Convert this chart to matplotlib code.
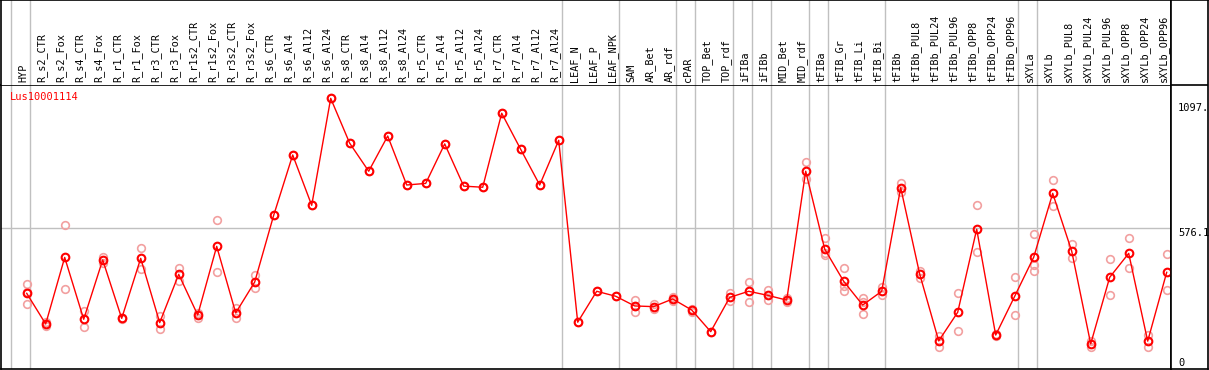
import matplotlib
matplotlib.use("Agg")
import matplotlib.pyplot as plt

# ~~~~~~~~~~ data ~~~~~~~~~~ #
gene = "Lus10001114"

samples = ["HYP",
           "R_s2_CTR", "R_s2_Fox", "R_s4_CTR", "R_s4_Fox", "R_r1_CTR", "R_r1_Fox",
           "R_r3_CTR", "R_r3_Fox", "R_r1s2_CTR", "R_r1s2_Fox", "R_r3s2_CTR", "R_r3s2_Fox",
           "R_s6_CTR", "R_s6_Al4", "R_s6_Al12", "R_s6_Al24", "R_s8_CTR", "R_s8_Al4",
           "R_s8_Al12", "R_s8_Al24", "R_r5_CTR", "R_r5_Al4", "R_r5_Al12", "R_r5_Al24",
           "R_r7_CTR", "R_r7_Al4", "R_r7_Al12", "R_r7_Al24",
           "LEAF_N", "LEAF_P", "LEAF_NPK",
           "SAM", "AR_Bet", "AR_rdf",
           "cPAR",
           "TOP_Bet", "TOP_rdf",
           "iFIBa",
           "iFIBb",
           "MID_Bet", "MID_rdf",
           "tFIBa",
           "tFIB_Gr", "tFIB_Li", "tFIB_Bi",
           "tFIBb", "tFIBb_PUL8", "tFIBb_PUL24", "tFIBb_PUL96", "tFIBb_OPP8",
           "tFIBb_OPP24", "tFIBb_OPP96",
           "sXYLa",
           "sXYLb", "sXYLb_PUL8", "sXYLb_PUL24", "sXYLb_PUL96", "sXYLb_OPP8",
           "sXYLb_OPP24", "sXYLb_OPP96"]

# mean expression per sample
means = [288, 152, 447, 173, 436, 177, 443, 158, 372, 192, 496, 201, 338,
         634, 901, 678, 1152, 953, 829, 985, 768, 775, 950, 763, 758,
         1086, 926, 768, 966,
         160, 297, 275,
         232, 229, 263,
         214,
         118, 270,
         297,
         279,
         258, 829,
         484,
         341, 236, 297,
         756, 373, 77, 204, 572, 103, 275,
         448,
         731, 475, 64, 359, 465, 76, 381]

# individual replicates
reps = [[328, 295, 241], [160, 143], [589, 306], [210, 140], [449, 424],
        [180, 174], [487, 396], [189, 131], [400, 344], [202, 177],
        [613, 382], [222, 177], [368, 310],
        [634], [901], [678], [1152], [953], [829], [985], [768], [775],
        [950], [763], [758], [1086], [926], [768], [966],
        [160], [297], [275],
        [258, 232, 207], [240, 218], [270, 256],
        [220, 207],
        [118], [289, 254],
        [337, 251],
        [303, 258],
        [266, 250], [868, 795],
        [532, 465, 458],
        [400, 320, 298], [269, 248, 195], [314, 280],
        [778, 738], [388, 355], [100, 51], [288, 120], [678, 470],
        [106, 100], [359, 191],
        [549, 412, 386],
        [789, 674], [506, 444], [77, 50], [439, 279], [532, 400],
        [103, 49], [461, 301]]

# last sample index of each group (gray separators)
group_ends = [-1, 0, 28, 31, 34, 35, 37, 38, 39, 41, 42, 45, 52, 53]

W, H = 1209, 370


def box(x0, y0, x1, y1):
    return [x0 / W, 1 - y1 / H, (x1 - x0) / W, (y1 - y0) / H]


fig = plt.figure(figsize=(W / 100, H / 100), dpi=100)
ax = fig.add_axes(box(1, 85, 1171, 369))
hd = fig.add_axes(box(1, 0, 1171, 85), sharex=ax)
rc = fig.add_axes(box(1171, 0, 1208, 369))

mono = "DejaVu Sans Mono"
fs = 7.3
grey = "#c0c0c0"

# category spacing 19 px, first at 26.7 px
ax.set_xlim((1 - 26.7) / 19, (1171 - 26.7) / 19)
ax.set_ylim(-47.4, 1211.1)

x = list(range(len(samples)))
for i, r in enumerate(reps):
    ax.plot([i] * len(r), r, "o", ms=5.5, mfc="none", mec="#f2a0a0", mew=1.2, zorder=2)
ax.plot(x, means, "-", color="#ff0000", lw=1, zorder=3)
ax.plot(x, means, "o", ms=5.5, mfc="none", mec="#ff0000", mew=1.5, zorder=4)

ax.axhline(576.1, color=grey, lw=1, zorder=1)
for g in group_ends:
    ax.axvline(g + 0.19, color=grey, lw=1, zorder=1)
    hd.axvline(g + 0.19, color=grey, lw=1, zorder=1)

ax.text(8.5 / 1170, 0.975, gene, transform=ax.transAxes, color="#ff0000",
        fontsize=7.5, family=mono, va="top", ha="left")

ax.set_xticks([])
ax.set_yticks([])
for s in ax.spines.values():
    s.set_linewidth(1.2)

# header with sample names
hd.set_ylim(0, 1)
for i, name in enumerate(samples):
    hd.text(i - 0.18, 0.03, name, rotation=90, ha="center", va="bottom",
            fontsize=fs, family=mono)
hd.set_xticks([])
hd.set_yticks([])
hd.spines["bottom"].set_visible(False)
for s in hd.spines.values():
    s.set_linewidth(1.2)
hd.tick_params(labelbottom=False)

# right column with scale labels
rc.set_xlim(0, 1)
rc.set_ylim(369, 0)
rc.set_xticks([])
rc.set_yticks([])
rc.axhline(85, color="black", lw=1.2)
for s in rc.spines.values():
    s.set_linewidth(1.2)
for lab, ypx in [("1097.", 103), ("576.1", 228), ("0", 358)]:
    rc.text(7 / 37, ypx, lab, fontsize=7.5, family=mono, va="top", ha="left")

fig.savefig("out.png", dpi=100)
